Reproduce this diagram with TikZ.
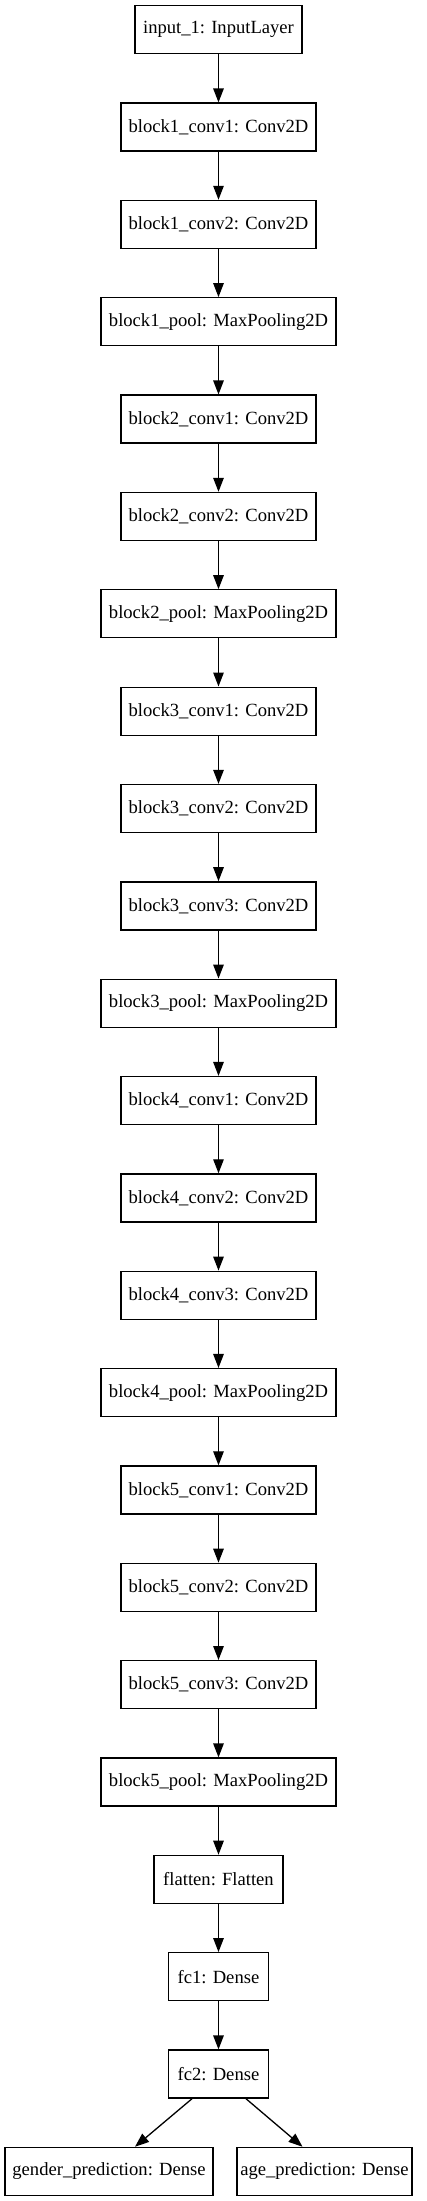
\documentclass[tikz,border=0pt]{standalone}
\usepackage{fontspec}
\setmainfont{Liberation Serif}
\usetikzlibrary{arrows.meta}
\begin{document}
\begin{tikzpicture}[x=1pt,y=-1pt,
  layer/.style={draw=black, line width=1.3pt, minimum height=48pt, inner sep=0pt,
    font=\fontsize{18.6pt}{22pt}\selectfont, text=black},
  winput/.style={layer, minimum width=167pt},
  wconv/.style={layer, minimum width=195pt},
  wpool/.style={layer, minimum width=235pt},
  wflat/.style={layer, minimum width=129pt},
  wfc/.style={layer, minimum width=100pt},
  wgender/.style={layer, minimum width=208pt},
  wage/.style={layer, minimum width=175pt},
  edge/.style={draw=black, line width=1.3pt, -{Triangle[length=14pt,width=10.5pt]}}]
\useasboundingbox (0,0) rectangle (427,2201);
\def\cx{218.5}
\node[winput] (n0)  at (\cx,29.7) {input\_1: InputLayer};
\node[wconv]  (n1)  at (\cx,127.05) {block1\_conv1: Conv2D};
\node[wconv]  (n2)  at (\cx,224.4) {block1\_conv2: Conv2D};
\node[wpool]  (n3)  at (\cx,321.75) {block1\_pool: MaxPooling2D};
\node[wconv]  (n4)  at (\cx,419.1) {block2\_conv1: Conv2D};
\node[wconv]  (n5)  at (\cx,516.45) {block2\_conv2: Conv2D};
\node[wpool]  (n6)  at (\cx,613.8) {block2\_pool: MaxPooling2D};
\node[wconv]  (n7)  at (\cx,711.15) {block3\_conv1: Conv2D};
\node[wconv]  (n8)  at (\cx,808.5) {block3\_conv2: Conv2D};
\node[wconv]  (n9)  at (\cx,905.85) {block3\_conv3: Conv2D};
\node[wpool]  (n10) at (\cx,1003.2) {block3\_pool: MaxPooling2D};
\node[wconv]  (n11) at (\cx,1100.55) {block4\_conv1: Conv2D};
\node[wconv]  (n12) at (\cx,1197.9) {block4\_conv2: Conv2D};
\node[wconv]  (n13) at (\cx,1295.25) {block4\_conv3: Conv2D};
\node[wpool]  (n14) at (\cx,1392.6) {block4\_pool: MaxPooling2D};
\node[wconv]  (n15) at (\cx,1489.95) {block5\_conv1: Conv2D};
\node[wconv]  (n16) at (\cx,1587.3) {block5\_conv2: Conv2D};
\node[wconv]  (n17) at (\cx,1684.65) {block5\_conv3: Conv2D};
\node[wpool]  (n18) at (\cx,1782) {block5\_pool: MaxPooling2D};
\node[wflat]  (n19) at (\cx,1879.35) {flatten: Flatten};
\node[wfc]    (n20) at (\cx,1976.7) {fc1: Dense};
\node[wfc]    (n21) at (\cx,2074.05) {fc2: Dense};
\node[wgender] (g) at (109,2171.4) {gender\_prediction: Dense};
\node[wage]    (a) at (324.5,2171.4) {age\_prediction: Dense};
\foreach \i [evaluate=\i as \j using int(\i+1)] in {0,...,20}
  \draw[edge] (n\i.south) -- (n\j.north);
\draw[edge] ([xshift=-26.5pt]n21.south) -- ([xshift=26pt]g.north);
\draw[edge] ([xshift=27.5pt]n21.south) -- ([xshift=-22pt]a.north);
\end{tikzpicture}
\end{document}
